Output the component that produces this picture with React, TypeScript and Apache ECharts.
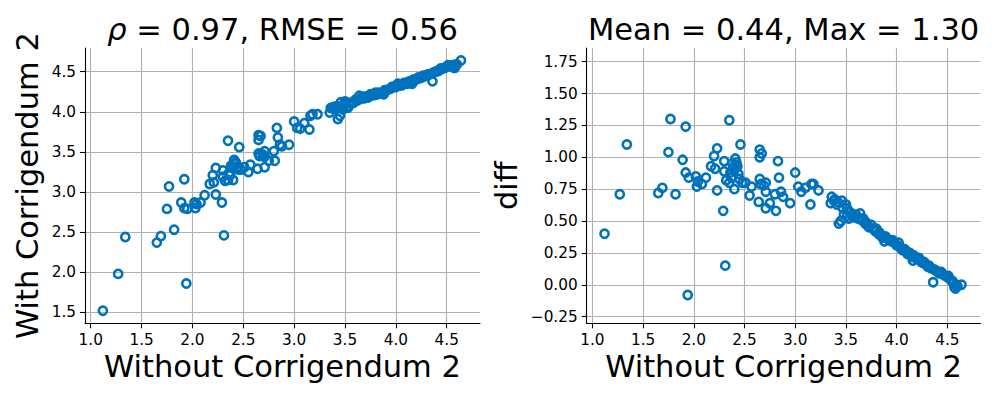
import React, { useEffect, useRef } from 'react';
import * as echarts from 'echarts';

// "Without Corrigendum 2" values (x of both panels)
const withoutCorr = [
  1.12, 1.27, 1.34, 1.65, 1.69, 1.75, 1.77, 1.82, 1.89, 1.92, 1.92, 1.94, 1.95, 2.02, 2.03, 2.04, 2.08, 2.12,
  2.17, 2.20, 2.21, 2.23, 2.23, 2.29, 2.30, 2.30, 2.31, 2.32, 2.35, 2.35, 2.37, 2.39, 2.40, 2.41, 2.41, 2.42,
  2.44, 2.46, 2.48, 2.51, 2.55, 2.57, 2.64, 2.65, 2.65, 2.65, 2.66, 2.67, 2.69, 2.71, 2.71, 2.71, 2.75, 2.80,
  2.81, 2.83, 2.84, 2.86, 2.88, 2.95, 3.00, 3.03, 3.06, 3.10, 3.15, 3.16, 3.18, 3.23, 2.38, 2.40, 2.43, 2.36,
  2.45,
  3.35, 3.36, 3.38, 3.39, 3.41, 3.42, 3.43, 3.45, 3.46, 3.47, 3.48, 3.50, 3.51, 3.51, 3.53, 3.54, 3.56, 3.58,
  3.60, 3.62, 3.64, 3.65, 3.67, 3.69, 3.70, 3.72, 3.73, 3.75, 3.77, 3.79, 3.80, 3.82, 3.83, 3.85, 3.86, 3.88,
  3.89, 3.91, 3.93, 3.95, 3.96, 3.98, 4.00, 4.02, 4.03, 4.05, 4.06, 4.08, 4.10, 4.11, 4.13, 4.15, 4.16, 4.17,
  4.19, 4.21, 4.22, 4.24, 4.26, 4.27, 4.29, 4.31, 4.32, 4.34, 4.36, 4.37, 4.39, 4.41, 4.42, 4.44, 4.46, 4.48,
  4.50, 4.51, 4.53, 4.55, 4.56, 4.57, 4.58, 4.59, 4.60, 4.64,
];

// "With Corrigendum 2" values (y of the left panel)
const withCorr = [
  1.52, 1.98, 2.44, 2.37, 2.45, 2.79, 3.07, 2.53, 2.87, 3.16, 2.80, 1.86, 2.79, 2.87, 2.80, 2.85, 2.87, 2.96,
  3.10, 3.21, 3.12, 3.30, 2.97, 2.87, 3.19, 3.27, 2.46, 3.14, 3.64, 3.15, 3.21, 3.31, 3.15, 3.40, 3.35, 3.38,
  3.31, 3.56, 3.28, 3.31, 3.25, 3.34, 3.29, 3.71, 3.65, 3.48, 3.45, 3.70, 3.47, 3.51, 3.31, 3.44, 3.39, 3.51,
  3.39, 3.80, 3.68, 3.59, 3.57, 3.59, 3.88, 3.80, 3.79, 3.86, 3.78, 3.95, 3.97, 3.97, 3.33, 3.30, 3.36, 3.24,
  3.28,
  3.99, 4.05, 4.04, 4.06, 4.04, 4.07, 3.91, 3.95, 4.12, 4.07, 4.03, 4.13, 4.05, 4.11, 4.05, 4.11, 4.11, 4.11,
  4.15, 4.14, 4.20, 4.16, 4.19, 4.17, 4.19, 4.18, 4.18, 4.22, 4.21, 4.21, 4.24, 4.22, 4.24, 4.23, 4.23, 4.22,
  4.27, 4.27, 4.28, 4.29, 4.31, 4.31, 4.31, 4.35, 4.33, 4.33, 4.33, 4.36, 4.36, 4.35, 4.38, 4.37, 4.35, 4.40,
  4.40, 4.41, 4.43, 4.42, 4.43, 4.45, 4.45, 4.45, 4.47, 4.47, 4.38, 4.49, 4.50, 4.51, 4.51, 4.54, 4.54, 4.55,
  4.56, 4.58, 4.57, 4.58, 4.57, 4.55, 4.55, 4.59, 4.59, 4.64,
];

// diff values (y of the right panel)
const diffVals = [
  0.40, 0.71, 1.10, 0.72, 0.76, 1.04, 1.30, 0.71, 0.98, 1.24, 0.88, -0.08, 0.84, 0.85, 0.77, 0.81, 0.79, 0.84,
  0.93, 1.01, 0.91, 1.07, 0.74, 0.58, 0.89, 0.97, 0.15, 0.82, 1.29, 0.80, 0.84, 0.92, 0.75, 0.99, 0.94, 0.96,
  0.87, 1.10, 0.80, 0.80, 0.70, 0.77, 0.65, 1.06, 1.00, 0.83, 0.79, 1.03, 0.78, 0.80, 0.60, 0.73, 0.64, 0.71,
  0.58, 0.97, 0.84, 0.73, 0.69, 0.64, 0.88, 0.77, 0.73, 0.76, 0.63, 0.79, 0.79, 0.74, 0.95, 0.90, 0.93, 0.88,
  0.83,
  0.64, 0.69, 0.66, 0.67, 0.63, 0.65, 0.48, 0.50, 0.66, 0.60, 0.55, 0.63, 0.54, 0.60, 0.52, 0.57, 0.55, 0.53,
  0.55, 0.52, 0.56, 0.51, 0.52, 0.48, 0.49, 0.46, 0.45, 0.47, 0.44, 0.42, 0.44, 0.40, 0.41, 0.38, 0.37, 0.34,
  0.38, 0.36, 0.35, 0.34, 0.35, 0.33, 0.31, 0.33, 0.30, 0.28, 0.27, 0.28, 0.26, 0.24, 0.25, 0.22, 0.19, 0.23,
  0.21, 0.20, 0.21, 0.18, 0.17, 0.18, 0.16, 0.14, 0.15, 0.13, 0.02, 0.12, 0.11, 0.10, 0.09, 0.10, 0.08, 0.07,
  0.06, 0.07, 0.04, 0.03, 0.01, -0.02, -0.03, 0.00, -0.01, 0.00,
];

const xTicks = [1.0, 1.5, 2.0, 2.5, 3.0, 3.5, 4.0, 4.5];
const withTicks = [1.5, 2.0, 2.5, 3.0, 3.5, 4.0, 4.5];
const diffTicks = [-0.25, 0.0, 0.25, 0.5, 0.75, 1.0, 1.25, 1.5, 1.75];

const leftTitle = ' = 0.97, RMSE = 0.56';
const rightTitle = 'Mean = 0.44, Max = 1.30';
const xLabel = 'Without Corrigendum 2';
const leftYLabel = 'With Corrigendum 2';
const rightYLabel = 'diff';

const FONT = 'DejaVu Sans';
const BLUE = '#0072BD';
const TICK_FS = 15.3;
const BIG_FS = 30.5;

function axisCommon(ticks: number[], digits: number) {
  return {
    type: 'value' as const,
    axisLine: { show: true, onZero: false, lineStyle: { color: '#000', width: 1.1 } },
    axisTick: { show: true, inside: false, length: 5, customValues: ticks, lineStyle: { color: '#000', width: 1.1 } },
    axisLabel: {
      customValues: ticks,
      margin: 9,
      fontSize: TICK_FS,
      color: '#000',
      fontFamily: FONT,
      formatter: (v: number) => v.toFixed(digits).replace('-', '\u2212'),
    },
    splitLine: { show: true, lineStyle: { color: '#b0b0b0', width: 1.1 } },
  };
}

export default function App() {
  const ref = useRef<HTMLDivElement>(null);
  useEffect(() => {
    if (!ref.current) return;
    const chart = echarts.init(ref.current, undefined, { renderer: 'svg' });
    const leftData = withoutCorr.map((x, i) => [x, withCorr[i]]);
    const rightData = withoutCorr.map((x, i) => [x, diffVals[i]]);
    const seriesStyle = {
      type: 'scatter' as const,
      symbol: 'circle',
      symbolSize: 8.2,
      itemStyle: { color: 'rgba(0,0,0,0)', borderColor: BLUE, borderWidth: 2.6, opacity: 1 },
      emphasis: { disabled: true },
      silent: true,
    };
    const bigText = (text: string, x: number, y: number, rot = 0, rich?: any) => ({
      type: 'text',
      x,
      y,
      rotation: rot,
      silent: true,
      style: {
        text,
        fontFamily: FONT,
        fontSize: BIG_FS,
        fill: '#000',
        align: 'center',
        verticalAlign: 'middle',
        ...(rich ? { rich } : {}),
      },
    });
    chart.setOption({
      animation: false,
      backgroundColor: '#fff',
      grid: [
        { left: 85, top: 48, width: 395, height: 275.3, containLabel: false },
        { left: 586.7, top: 48, width: 393.8, height: 275.3, containLabel: false },
      ],
      xAxis: [
        { ...axisCommon(xTicks, 1), gridIndex: 0, min: 0.944, max: 4.827 },
        { ...axisCommon(xTicks, 1), gridIndex: 1, min: 0.944, max: 4.827 },
      ],
      yAxis: [
        { ...axisCommon(withTicks, 1), gridIndex: 0, min: 1.364, max: 4.796 },
        { ...axisCommon(diffTicks, 2), gridIndex: 1, min: -0.302, max: 1.857 },
      ],
      series: [
        { ...seriesStyle, xAxisIndex: 0, yAxisIndex: 0, data: leftData },
        { ...seriesStyle, xAxisIndex: 1, yAxisIndex: 1, data: rightData },
      ],
      graphic: [
        bigText('{i|ρ}' + leftTitle, 282.5, 29.6, 0, {
          i: { fontStyle: 'italic', fontFamily: FONT, fontSize: BIG_FS, fill: '#000' },
        }),
        bigText(rightTitle, 783.6, 29.6),
        bigText(xLabel, 282.5, 366.6),
        bigText(xLabel, 783.6, 366.6),
        bigText(leftYLabel, 27.7, 185.6, Math.PI / 2),
        bigText(rightYLabel, 506.8, 185.6, Math.PI / 2),
      ],
    });
    return () => chart.dispose();
  }, []);
  return (
    <div
      ref={ref}
      style={{ position: 'fixed', left: 0, top: 0, width: 997, height: 399, background: '#fff' }}
    />
  );
}
